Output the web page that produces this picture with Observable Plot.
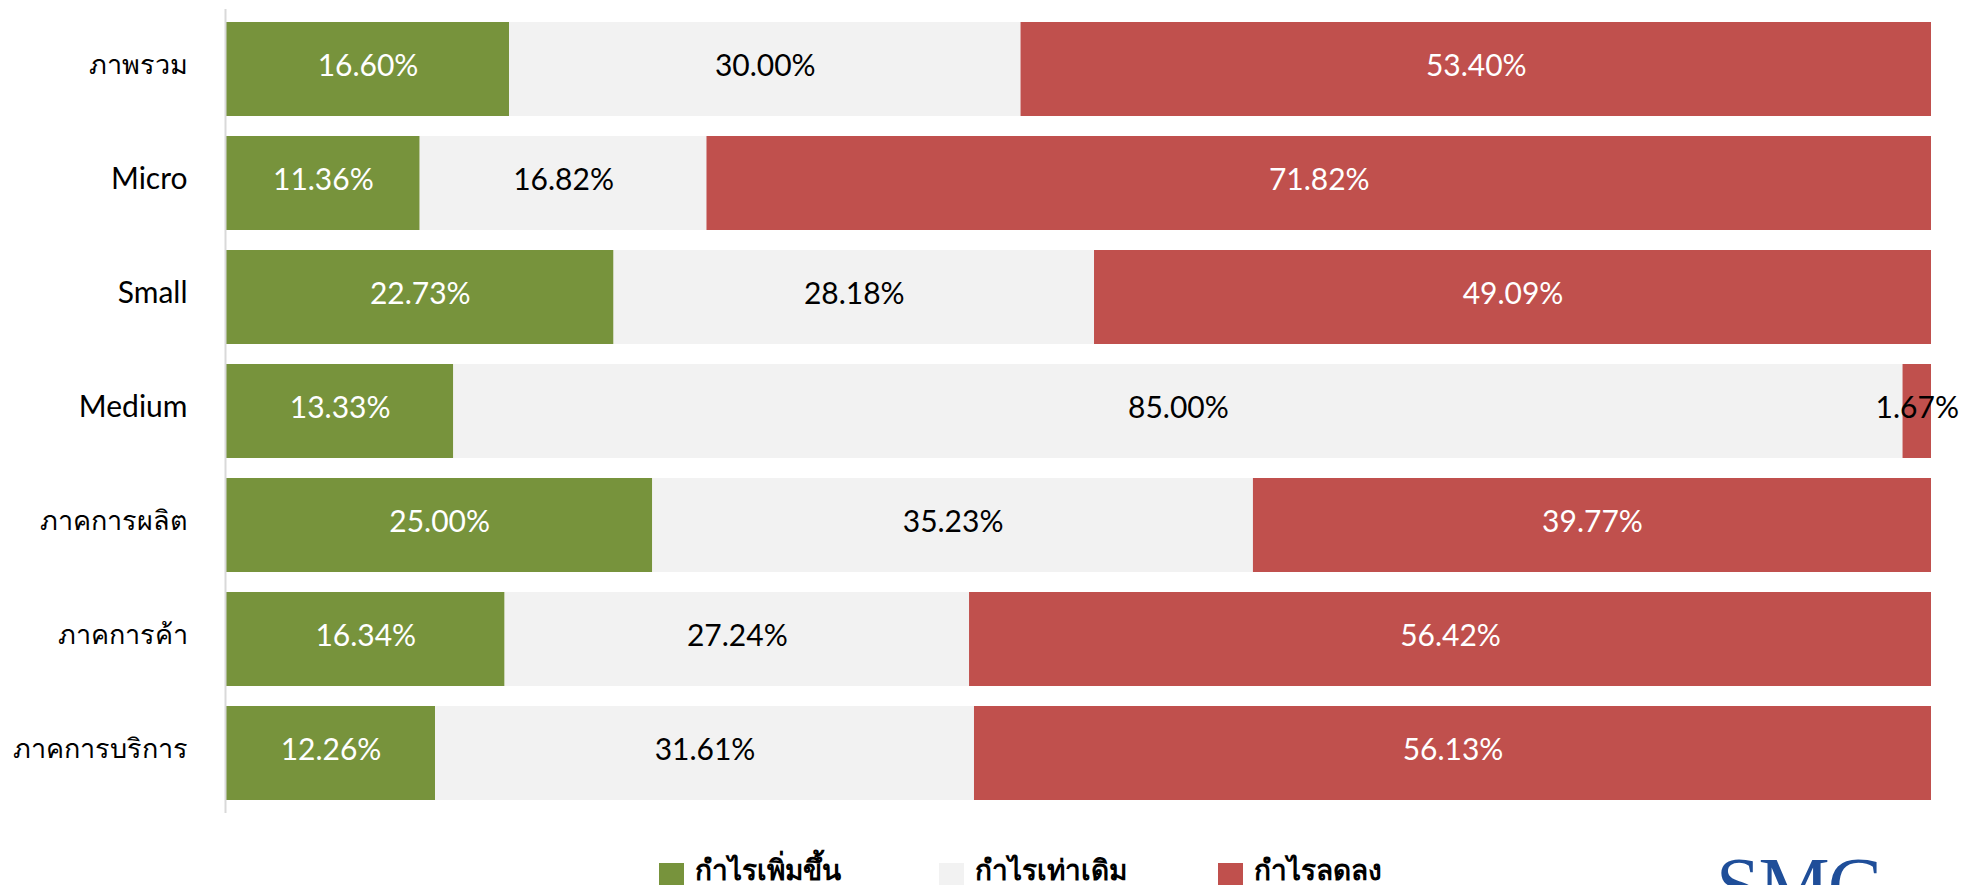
<!DOCTYPE html>
<html>
<head>
<meta charset="utf-8">
<script src="https://cdn.jsdelivr.net/npm/d3@7"></script>
<script src="https://cdn.jsdelivr.net/npm/@observablehq/plot@0.6"></script>
<style>
  html, body { margin: 0; padding: 0; background: #fff; overflow: hidden; }
  #wrap { position: relative; width: 1962px; height: 885px; overflow: hidden; }
  #legend { position: absolute; left: 659px; top: 855px; display: flex; font-family: Lato, "Noto Sans", sans-serif; font-size: 28px; line-height: 28px; font-weight: bold; color: #000; }
  .item { width: 279.5px; display: flex; align-items: flex-start; }
  .sw { width: 25px; height: 25px; margin-top: 8px; margin-right: 11px; flex: none; }
  #logo { position: absolute; left: 1716px; top: 846px; font-family: "Liberation Serif", serif; font-size: 80px; line-height: 1; color: #1f4e99; letter-spacing: -2px; }
</style>
</head>
<body>
<div id="wrap">
  <div id="chart"></div>
  <div id="legend"></div>
  <div id="logo">SMG</div>
</div>
<script>
const categories = ["ภาพรวม", "Micro", "Small", "Medium", "ภาคการผลิต", "ภาคการค้า", "ภาคการบริการ"];
const seriesNames = ["กำไรเพิ่มขึ้น", "กำไรเท่าเดิม", "กำไรลดลง"];
const seriesColors = ["#77933c", "#f2f2f2", "#c0504d"];
const labelColors = ["#ffffff", "#000000", "#ffffff"];
const profitUp = [16.60, 11.36, 22.73, 13.33, 25.00, 16.34, 12.26];
const profitSame = [30.00, 16.82, 28.18, 85.00, 35.23, 27.24, 31.61];
const profitDown = [53.40, 71.82, 49.09, 1.67, 39.77, 56.42, 56.13];

const seriesValues = [profitUp, profitSame, profitDown];
const data = [];
categories.forEach((c, i) => {
  seriesNames.forEach((s, j) => {
    const v = seriesValues[j][i];
    // labels too wide for their segment spill onto the light background, so they are drawn dark
    data.push({category: c, series: s, value: v, labelColor: v < 5 ? "#000000" : labelColors[j]});
  });
});

const stackOpts = {x: "value", y: "category", z: "series", order: seriesNames};

const chart = Plot.plot({
  width: 1962,
  height: 830,
  marginTop: 9,
  marginBottom: 17,
  marginLeft: 226,
  marginRight: 31,
  style: {fontFamily: "Lato, 'Noto Sans', sans-serif", background: "#fff", overflow: "visible"},
  x: {domain: [0, 100], axis: null},
  y: {domain: categories, paddingInner: 0.178, paddingOuter: 0.089, label: null},
  color: {domain: seriesNames, range: seriesColors},
  marks: [
    Plot.barX(data, Plot.stackX({...stackOpts, fill: "series"})),
    Plot.ruleX([0], {stroke: "#d9d9d9", strokeWidth: 2, dx: -1}),
    Plot.text(data, Plot.stackX({...stackOpts, x: "value", text: d => d.value.toFixed(2) + "%", fill: "labelColor", fontSize: 30, dy: -3})),
    Plot.axisY({tickSize: 0, tickPadding: 39, fontSize: d => /[A-Za-z]/.test(d) ? 30 : 27, fill: "#000", dy: -4, label: null})
  ]
});
document.getElementById("chart").appendChild(chart);

const legend = document.getElementById("legend");
seriesNames.forEach((s, j) => {
  const item = document.createElement("div");
  item.className = "item";
  const sw = document.createElement("div");
  sw.className = "sw";
  sw.style.background = seriesColors[j];
  const t = document.createElement("span");
  t.textContent = s;
  item.appendChild(sw);
  item.appendChild(t);
  legend.appendChild(item);
});
</script>
</body>
</html>
